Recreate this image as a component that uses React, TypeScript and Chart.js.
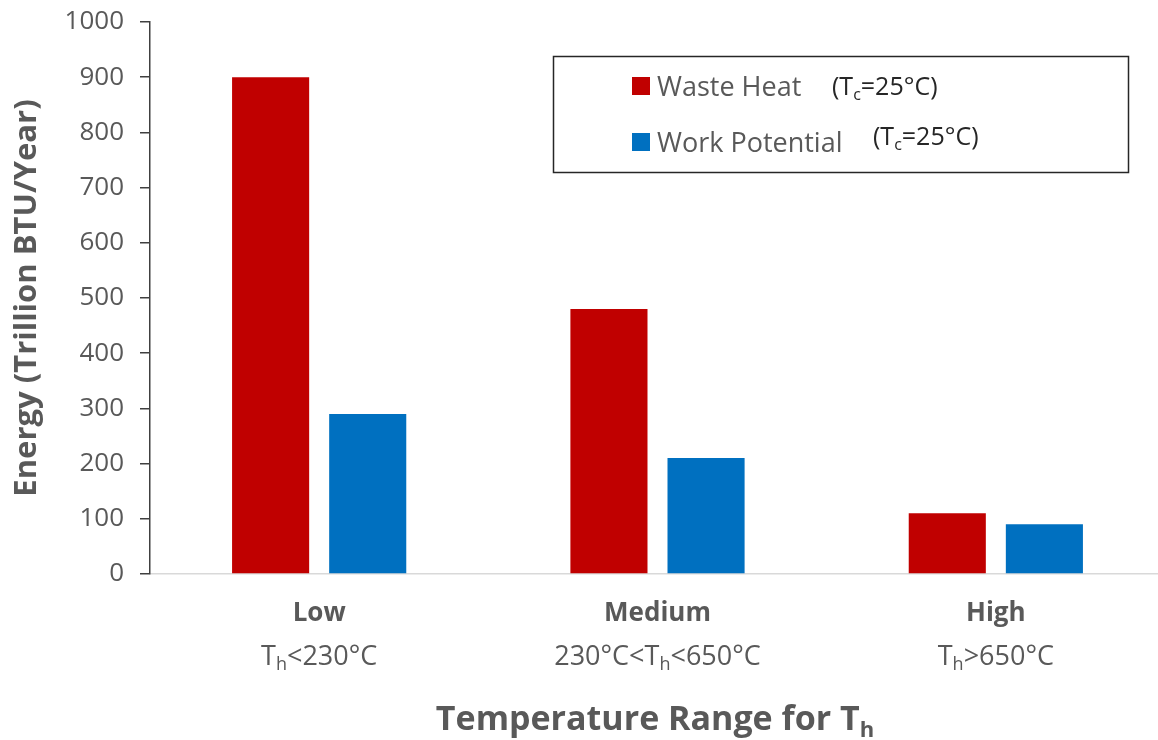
import React, { useEffect, useRef } from 'react';
import { Chart, registerables } from 'chart.js';

Chart.register(...registerables);

const categories = ['Low', 'Medium', 'High'];
const rangeLabels = ['T_{h}<230°C', '230°C<T_{h}<650°C', 'T_{h}>650°C'];
const wasteHeat = [900, 480, 110];
const workPotential = [290, 210, 90];
const seriesNames = ['Waste Heat', 'Work Potential'];
const seriesNote = '(T_{c}=25°C)';
const yMin = 0;
const yMax = 1000;
const yStep = 100;
const yTitle = 'Energy (Trillion BTU/Year)';
const xTitle = 'Temperature Range for T_{h}';

const FONT = "'Open Sans', sans-serif";
const RED = '#C00000';
const BLUE = '#0070C0';
const GRAY = '#595959';

type Part = { text: string; sub: boolean };

function parseRich(s: string): Part[] {
  const parts: Part[] = [];
  const re = /_\{([^}]*)\}/g;
  let last = 0;
  let m: RegExpExecArray | null;
  while ((m = re.exec(s)) !== null) {
    if (m.index > last) parts.push({ text: s.slice(last, m.index), sub: false });
    parts.push({ text: m[1], sub: true });
    last = m.index + m[0].length;
  }
  if (last < s.length) parts.push({ text: s.slice(last), sub: false });
  return parts;
}

function drawRich(
  ctx: CanvasRenderingContext2D,
  s: string,
  x: number,
  y: number,
  size: number,
  weight: string,
  color: string,
  align: 'left' | 'center'
) {
  const parts = parseRich(s);
  const subSize = Math.round(size * 0.65);
  const fontFor = (p: Part) => `${weight} ${p.sub ? subSize : size}px ${FONT}`;
  let total = 0;
  const widths = parts.map((p) => {
    ctx.font = fontFor(p);
    const w = ctx.measureText(p.text).width;
    total += w;
    return w;
  });
  let cx = align === 'center' ? x - total / 2 : x;
  ctx.fillStyle = color;
  ctx.textAlign = 'left';
  ctx.textBaseline = 'alphabetic';
  parts.forEach((p, i) => {
    ctx.font = fontFor(p);
    ctx.fillText(p.text, cx, p.sub ? y + size * 0.2 : y);
    cx += widths[i];
  });
}

const customPlugin = {
  id: 'customText',
  afterDraw(chart: any) {
    const ctx: CanvasRenderingContext2D = chart.ctx;
    const xs = chart.scales.x;
    ctx.save();
    categories.forEach((c, i) => {
      const px = xs.getPixelForValue(i);
      drawRich(ctx, c, px, 621, 26, 'bold', GRAY, 'center');
      drawRich(ctx, rangeLabels[i], px, 665, 27, 'normal', GRAY, 'center');
    });
    drawRich(ctx, xTitle, 655, 730, 34, 'bold', GRAY, 'center');

    // legend box
    ctx.strokeStyle = '#262626';
    ctx.lineWidth = 1.5;
    ctx.strokeRect(553.5, 56.5, 575, 116);
    const colors = [RED, BLUE];
    const rowY = [86, 142];
    const noteX = [832, 873];
    const noteDy = [0, -6];
    seriesNames.forEach((name, i) => {
      ctx.fillStyle = colors[i];
      ctx.fillRect(632, rowY[i] - 9, 18, 18);
      drawRich(ctx, name, 657, rowY[i] + 10, 27, 'normal', GRAY, 'left');
      drawRich(ctx, seriesNote, noteX[i], rowY[i] + 9 + noteDy[i], 25, 'normal', '#262626', 'left');
    });
    ctx.restore();
  },
};

export default function App() {
  const ref = useRef<HTMLCanvasElement | null>(null);
  useEffect(() => {
    if (!ref.current) return;
    const chart = new Chart(ref.current, {
      type: 'bar',
      data: {
        labels: categories,
        datasets: [
          {
            label: seriesNames[0],
            data: wasteHeat,
            backgroundColor: RED,
            categoryPercentage: 0.574,
            barPercentage: 0.794,
          },
          {
            label: seriesNames[1],
            data: workPotential,
            backgroundColor: BLUE,
            categoryPercentage: 0.574,
            barPercentage: 0.794,
          },
        ],
      },
      options: {
        animation: false,
        responsive: true,
        maintainAspectRatio: false,
        layout: { padding: { top: 22, right: 15, bottom: 158, left: 0 } },
        plugins: { legend: { display: false }, tooltip: { enabled: false } },
        scales: {
          x: {
            grid: { display: false },
            border: { color: '#d9d9d9', width: 1.5 },
            ticks: { display: false },
          },
          y: {
            min: yMin,
            max: yMax,
            ticks: {
              stepSize: yStep,
              color: GRAY,
              font: { family: FONT, size: 26 },
              padding: 16,
              callback: (v: any) => String(v),
            },
            grid: { drawOnChartArea: false, drawTicks: true, tickLength: 10, color: '#404040', lineWidth: 1.5 },
            border: { color: '#404040', width: 1.5 },
            title: {
              display: true,
              text: yTitle,
              color: GRAY,
              font: { family: FONT, size: 31, weight: 'bold' },
              padding: { top: 9, bottom: 0 },
            },
            afterFit: (s: any) => {
              s.width = 150;
              s.paddingTop = 0;
              s.paddingBottom = 0;
            },
          },
        },
      },
      plugins: [customPlugin],
    });
    return () => chart.destroy();
  }, []);
  return (
    <div style={{ position: 'absolute', left: 0, top: 0, width: 1158, height: 740, overflow: 'hidden', background: '#fff' }}>
      <div style={{ position: 'relative', width: 1180, height: 740 }}>
        <canvas ref={ref} />
      </div>
    </div>
  );
}
